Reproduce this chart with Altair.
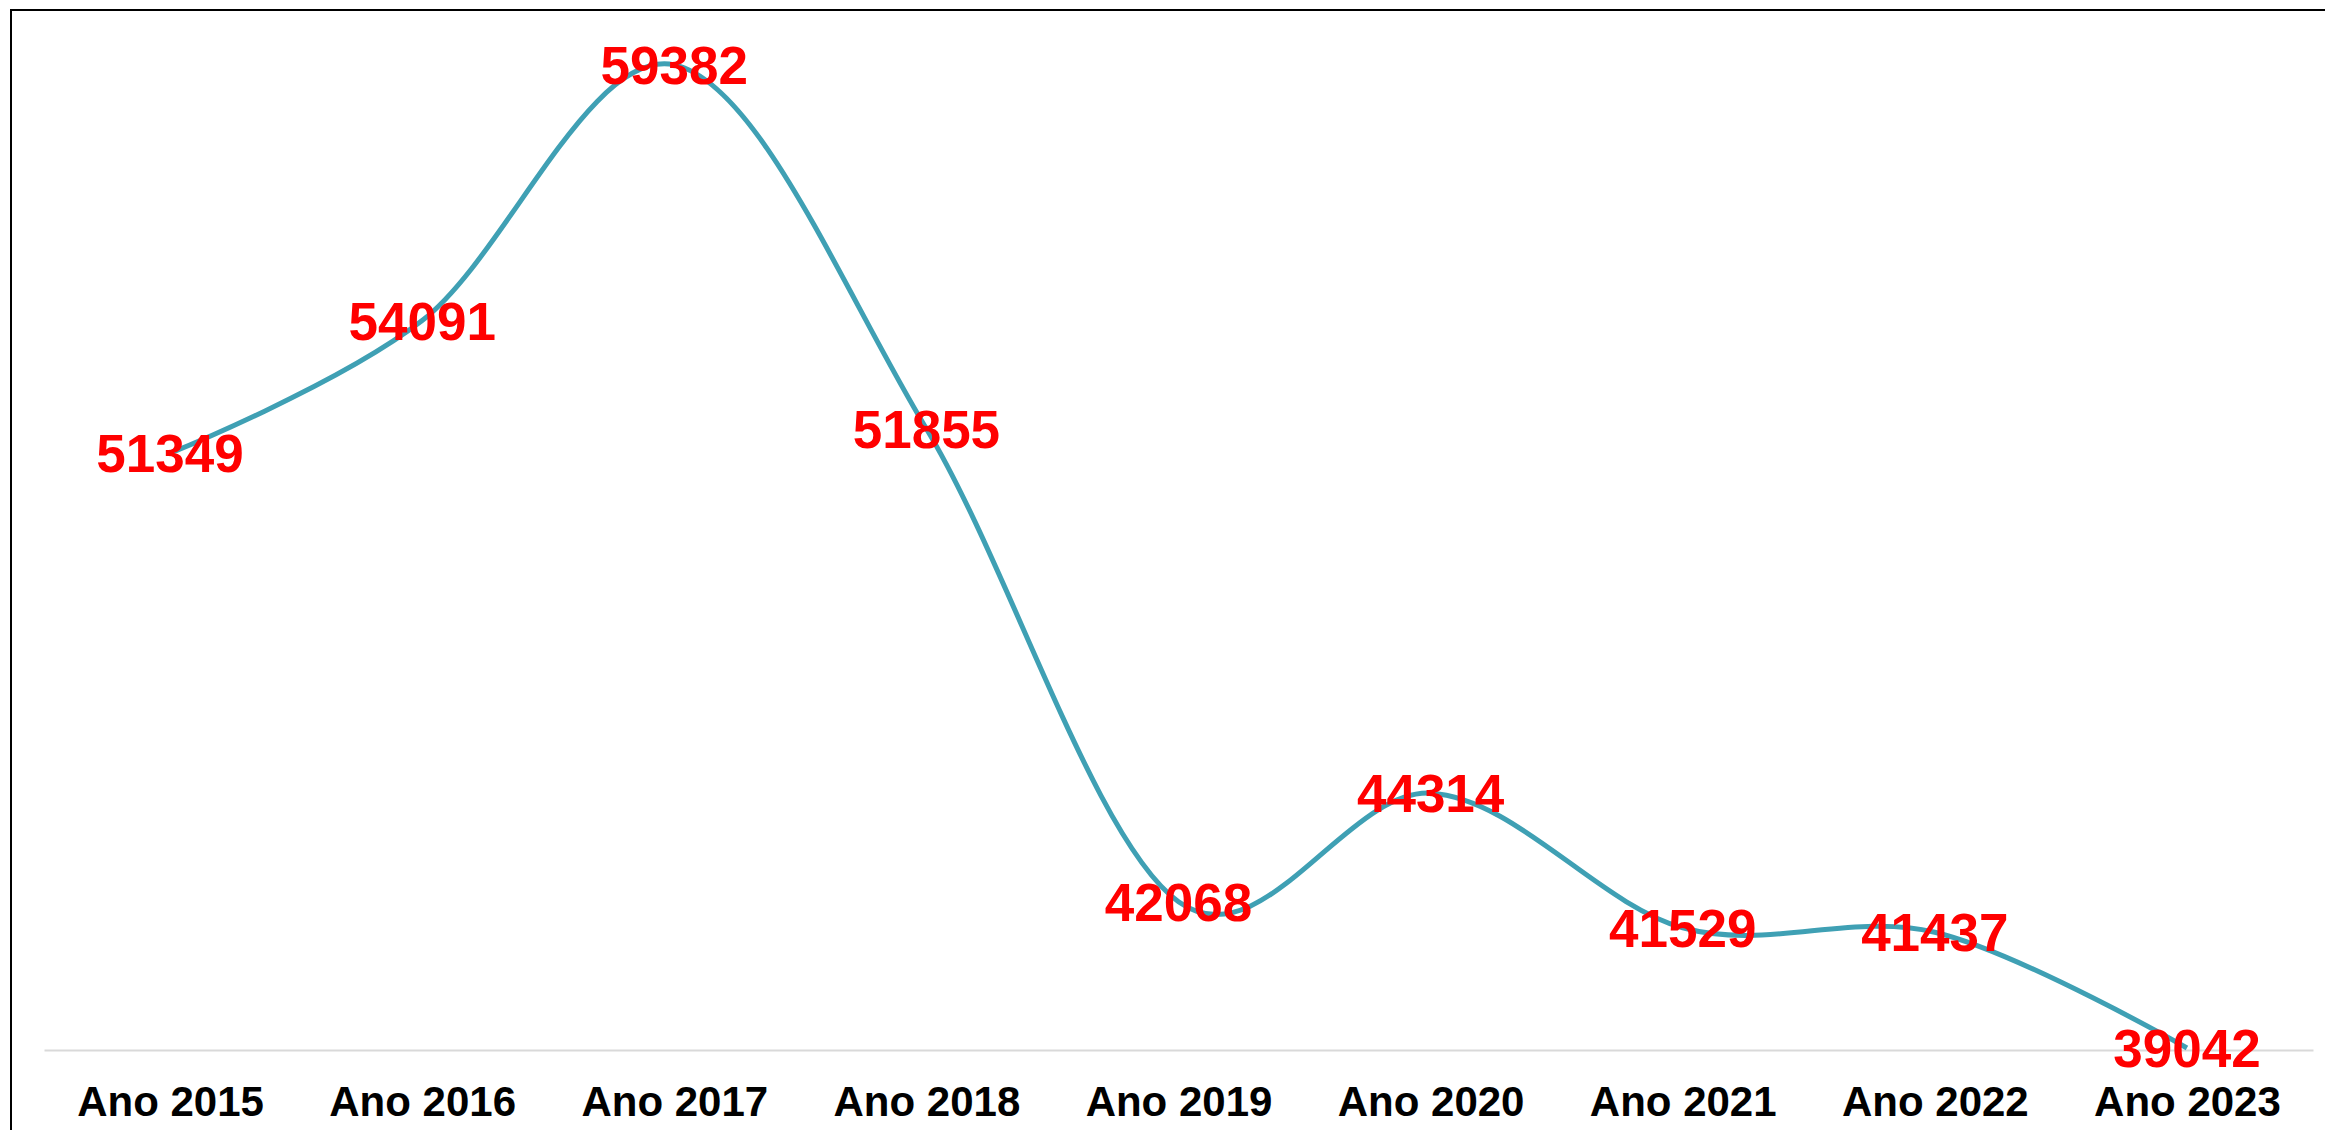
import altair as alt
import pandas as pd

categories = ["Ano 2015", "Ano 2016", "Ano 2017", "Ano 2018", "Ano 2019",
              "Ano 2020", "Ano 2021", "Ano 2022", "Ano 2023"]
values = [51349, 54091, 59382, 51855, 42068, 44314, 41529, 41437, 39042]

df = pd.DataFrame({"ano": categories, "valor": values})

W, H = 2269, 1015
FONT = "Liberation Sans"

x_enc = alt.X("ano:N", sort=categories,
              scale=alt.Scale(type="point", padding=0.5),
              axis=alt.Axis(title=None, labelAngle=0, labelFont=FONT, labelFontSize=42,
                            labelFontWeight="bold", labelColor="#000000", labelPadding=32,
                            labelLimit=0, ticks=False, grid=False,
                            domainColor="#d9d9d9", domainWidth=2))
y_enc = alt.Y("valor:Q", scale=alt.Scale(domain=[39000, 60000], zero=False, nice=False),
              axis=None)

base = alt.Chart(df)

line = base.mark_line(interpolate="cardinal", color="#3FA0B4", strokeWidth=5).encode(
    x=x_enc, y=y_enc)

labels = base.mark_text(font=FONT, fontSize=53, fontWeight="bold", color="#FF0000",
                        align="center", baseline="middle", dy=3).encode(
    x=x_enc, y=y_enc, text="valor:Q")

frame_df = pd.DataFrame({"k": [0]})
top_rule = alt.Chart(frame_df).mark_rule(color="#000000", strokeWidth=2).encode(
    x=alt.value(-34), x2=alt.value(W + 12), y=alt.value(-25))
left_rule = alt.Chart(frame_df).mark_rule(color="#000000", strokeWidth=2).encode(
    x=alt.value(-33), y=alt.value(-26), y2=alt.value(H + 80))

chart = alt.layer(line, labels, top_rule, left_rule).properties(
    width=W, height=H,
    background="#ffffff",
    autosize=alt.AutoSizeParams(type="none"),
    padding={"left": 36, "top": 27, "right": 12, "bottom": 80},
).configure_view(strokeWidth=0, stroke=None)

chart.save("out.html", embed_options={"renderer": "svg", "actions": False})
